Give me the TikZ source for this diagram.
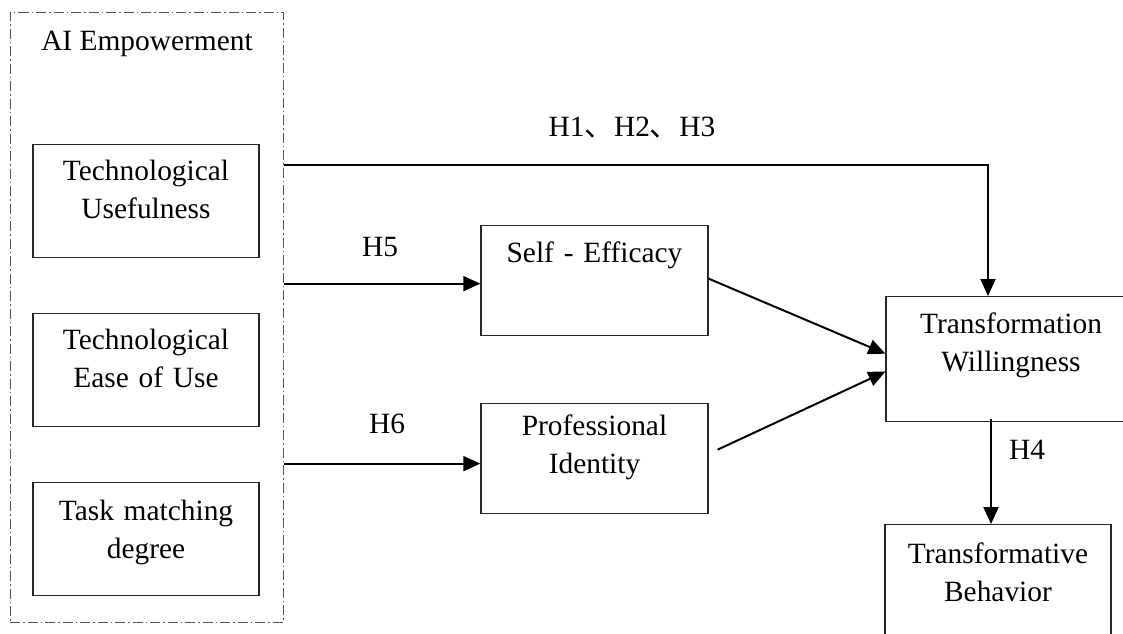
\documentclass[tikz,border=0pt]{standalone}
\usepackage{fontspec}
\setmainfont{Liberation Serif}
\newfontfamily\cjk{Noto Sans CJK SC}
\usetikzlibrary{arrows.meta,positioning}
\definecolor{frameGray}{HTML}{555555}
\definecolor{boxInk}{HTML}{262626}

\begin{document}
\begin{tikzpicture}[x=1pt,y=-1pt,>={Triangle[length=17pt,width=15pt]},line join=miter]
\path[use as bounding box] (0,0) rectangle (1123,633);
\clip (0,0) rectangle (1123,633);
\tikzset{frame/.style={draw=frameGray,line width=1pt,dash pattern=on 10pt off 3pt on 1.5pt off 3pt},box/.style={draw=boxInk,line width=1.3pt,inner sep=0pt,anchor=north,align=center,font=\fontsize{29.4}{37.5}\selectfont},lbl/.style={inner sep=0pt,font=\fontsize{29.4}{34}\selectfont},link/.style={draw=black,line width=2pt,->}}
% AI empowerment group
\node[frame,inner sep=0pt,minimum width=273pt,minimum height=610pt] (ai) at (146.5,317) {};
\node[lbl] (aititle) at (147,44) {AI Empowerment};
\node[box,text width=226pt,text height=36pt,text depth=77pt] (tu) at (146,144) {Technological\\Usefulness};
\node[box,text width=226pt,text height=36pt,text depth=77pt] (te) at (146,313) {Technological\\Ease of Use};
\node[box,text width=226pt,text height=38pt,text depth=75pt] (tm) at (146,482) {Task matching\\degree};
% mediators and outcomes
\node[box,text width=227pt,text height=37pt,text depth=73pt] (se) at (594.5,225) {Self - Efficacy};
\node[box,text width=227pt,text height=32pt,text depth=78pt] (pi) at (594.5,403) {Professional\\Identity};
\node[box,text width=250pt,text height=37pt,text depth=88pt] (tw) at (1011,296) {Transformation\\Willingness};
\node[box,text width=226pt,text height=39pt,text depth=119pt] (tb) at (998,524) {Transformative\\Behavior};
% paths
\coordinate (turn) at (988,165);
\coordinate (h5end) at ([yshift=-3pt]se.west);
\coordinate (h6end) at ([yshift=-5pt]pi.west);
\draw[link] (ai.east |- turn) -- (turn) -- (turn |- tw.north);
\draw[link] (h5end -| ai.east) -- (h5end);
\draw[link] (h6end -| ai.east) -- (h6end);
\draw[link] ([yshift=2pt]se.east) -- ([yshift=5.5pt]tw.west);
\draw[link] ([shift={(9pt,9pt)}]pi.east) -- ([yshift=-12.5pt]tw.west);
\draw[link] ([xshift=-20pt,yshift=3pt]tw.south) -- ([xshift=-7pt]tb.north);
\node[lbl] (h123) at (632,127.5) {H1{\cjk 、}H2{\cjk 、}H3};
\node[lbl] (h5) at (380,247.5) {H5};
\node[lbl] (h6) at (387,424) {H6};
\node[lbl] (h4) at (1027,449.5) {H4};
\end{tikzpicture}
\end{document}
